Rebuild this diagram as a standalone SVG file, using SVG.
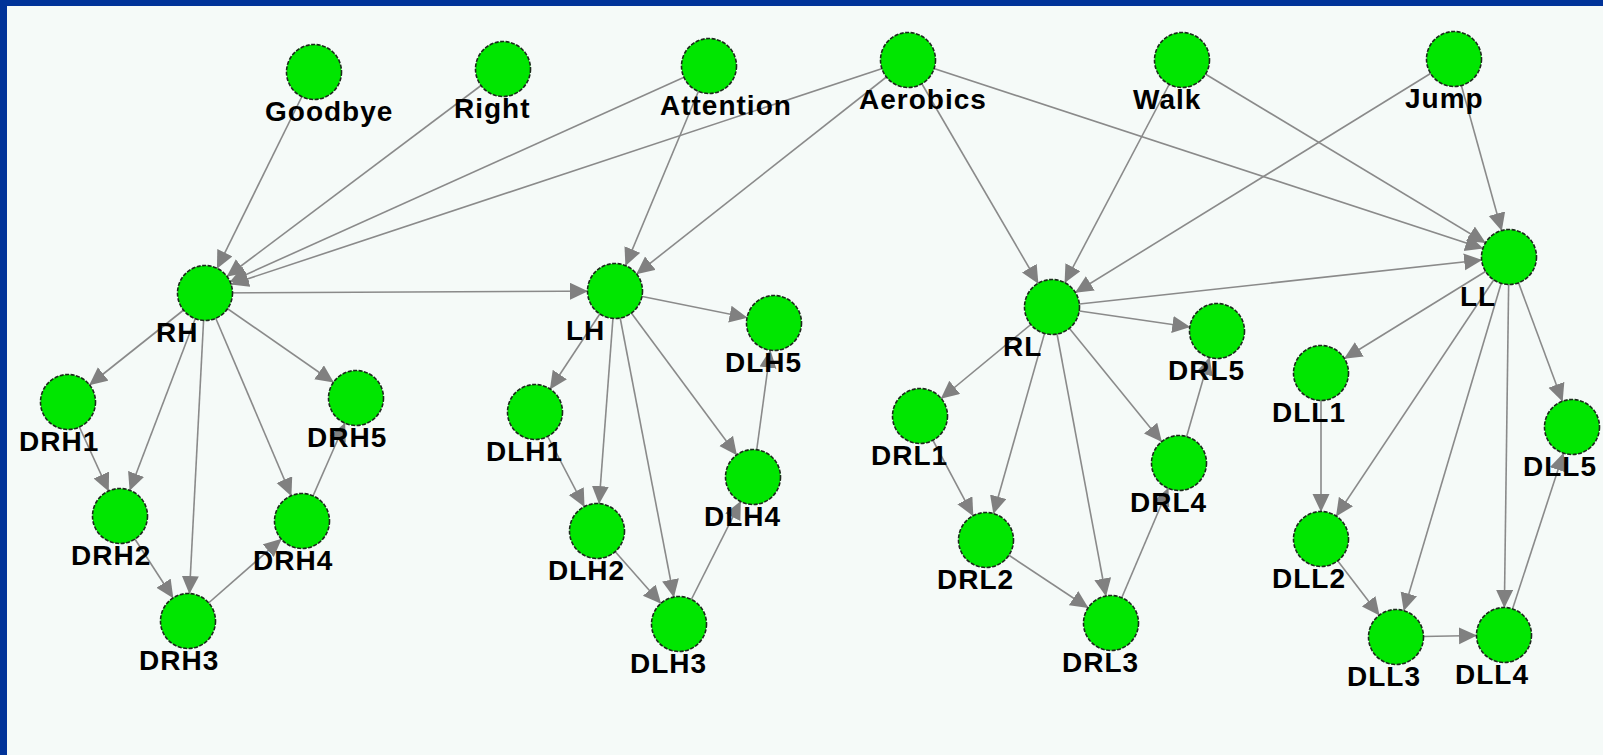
<svg xmlns="http://www.w3.org/2000/svg" width="1603" height="755" viewBox="0 0 1603 755">
<style>
.bg{fill:#f5faf8}
.frame{fill:#003399}
.e{stroke:#8a8a8a;stroke-width:1.6;fill:none;marker-end:url(#ah)}
.n circle{fill:#00e600;stroke:#1c2a1c;stroke-width:1.6;stroke-dasharray:4 1.5}
.n text{font-family:"Liberation Sans",Arial,sans-serif;font-weight:bold;font-size:28px;letter-spacing:1px;fill:#000}
</style>
<defs>
<marker id="ah" markerUnits="userSpaceOnUse" markerWidth="50" markerHeight="18" refX="45" refY="8.5" orient="auto" viewBox="0 0 50 18">
<path d="M0,0 L18,8.5 L0,17 z" fill="#808080"/>
</marker>
</defs>
<rect class="bg" x="0" y="0" width="1603" height="755"/>
<rect class="frame" x="0" y="0" width="1603" height="6"/>
<rect class="frame" x="0" y="0" width="7" height="755"/>
<g id="connectors">
<line class="e" x1="314" y1="72" x2="205" y2="293"/>
<line class="e" x1="503" y1="69" x2="205" y2="293"/>
<line class="e" x1="709" y1="66" x2="205" y2="293"/>
<line class="e" x1="908" y1="60" x2="205" y2="293"/>
<line class="e" x1="709" y1="66" x2="615" y2="291"/>
<line class="e" x1="908" y1="60" x2="615" y2="291"/>
<line class="e" x1="908" y1="60" x2="1052" y2="307"/>
<line class="e" x1="908" y1="60" x2="1509" y2="257"/>
<line class="e" x1="1182" y1="60" x2="1052" y2="307"/>
<line class="e" x1="1182" y1="60" x2="1509" y2="257"/>
<line class="e" x1="1454" y1="59" x2="1052" y2="307"/>
<line class="e" x1="1454" y1="59" x2="1509" y2="257"/>
<line class="e" x1="205" y1="293" x2="615" y2="291"/>
<line class="e" x1="1052" y1="307" x2="1509" y2="257"/>
<line class="e" x1="205" y1="293" x2="68" y2="402"/>
<line class="e" x1="205" y1="293" x2="120" y2="516"/>
<line class="e" x1="205" y1="293" x2="188" y2="621"/>
<line class="e" x1="205" y1="293" x2="302" y2="521"/>
<line class="e" x1="205" y1="293" x2="356" y2="398"/>
<line class="e" x1="68" y1="402" x2="120" y2="516"/>
<line class="e" x1="120" y1="516" x2="188" y2="621"/>
<line class="e" x1="188" y1="621" x2="302" y2="521"/>
<line class="e" x1="302" y1="521" x2="356" y2="398"/>
<line class="e" x1="615" y1="291" x2="535" y2="412"/>
<line class="e" x1="615" y1="291" x2="597" y2="531"/>
<line class="e" x1="615" y1="291" x2="679" y2="624"/>
<line class="e" x1="615" y1="291" x2="753" y2="477"/>
<line class="e" x1="615" y1="291" x2="774" y2="323"/>
<line class="e" x1="535" y1="412" x2="597" y2="531"/>
<line class="e" x1="597" y1="531" x2="679" y2="624"/>
<line class="e" x1="679" y1="624" x2="753" y2="477"/>
<line class="e" x1="753" y1="477" x2="774" y2="323"/>
<line class="e" x1="1052" y1="307" x2="920" y2="416"/>
<line class="e" x1="1052" y1="307" x2="986" y2="540"/>
<line class="e" x1="1052" y1="307" x2="1111" y2="623"/>
<line class="e" x1="1052" y1="307" x2="1179" y2="463"/>
<line class="e" x1="1052" y1="307" x2="1217" y2="331"/>
<line class="e" x1="920" y1="416" x2="986" y2="540"/>
<line class="e" x1="986" y1="540" x2="1111" y2="623"/>
<line class="e" x1="1111" y1="623" x2="1179" y2="463"/>
<line class="e" x1="1179" y1="463" x2="1217" y2="331"/>
<line class="e" x1="1509" y1="257" x2="1321" y2="373"/>
<line class="e" x1="1509" y1="257" x2="1321" y2="539"/>
<line class="e" x1="1509" y1="257" x2="1396" y2="637"/>
<line class="e" x1="1509" y1="257" x2="1504" y2="635"/>
<line class="e" x1="1509" y1="257" x2="1572" y2="427"/>
<line class="e" x1="1321" y1="373" x2="1321" y2="539"/>
<line class="e" x1="1321" y1="539" x2="1396" y2="637"/>
<line class="e" x1="1396" y1="637" x2="1504" y2="635"/>
<line class="e" x1="1504" y1="635" x2="1572" y2="427"/>
</g>
<g id="Goodbye" class="n"><circle cx="314" cy="72" r="27.5"/><text x="265" y="121">Goodbye</text></g>
<g id="Right" class="n"><circle cx="503" cy="69" r="27.5"/><text x="454" y="118">Right</text></g>
<g id="Attention" class="n"><circle cx="709" cy="66" r="27.5"/><text x="660" y="115">Attention</text></g>
<g id="Aerobics" class="n"><circle cx="908" cy="60" r="27.5"/><text x="859" y="109">Aerobics</text></g>
<g id="Walk" class="n"><circle cx="1182" cy="60" r="27.5"/><text x="1133" y="109">Walk</text></g>
<g id="Jump" class="n"><circle cx="1454" cy="59" r="27.5"/><text x="1405" y="108">Jump</text></g>
<g id="RH" class="n"><circle cx="205" cy="293" r="27.5"/><text x="156" y="342">RH</text></g>
<g id="DRH1" class="n"><circle cx="68" cy="402" r="27.5"/><text x="19" y="451">DRH1</text></g>
<g id="DRH2" class="n"><circle cx="120" cy="516" r="27.5"/><text x="71" y="565">DRH2</text></g>
<g id="DRH3" class="n"><circle cx="188" cy="621" r="27.5"/><text x="139" y="670">DRH3</text></g>
<g id="DRH4" class="n"><circle cx="302" cy="521" r="27.5"/><text x="253" y="570">DRH4</text></g>
<g id="DRH5" class="n"><circle cx="356" cy="398" r="27.5"/><text x="307" y="447">DRH5</text></g>
<g id="LH" class="n"><circle cx="615" cy="291" r="27.5"/><text x="566" y="340">LH</text></g>
<g id="DLH1" class="n"><circle cx="535" cy="412" r="27.5"/><text x="486" y="461">DLH1</text></g>
<g id="DLH2" class="n"><circle cx="597" cy="531" r="27.5"/><text x="548" y="580">DLH2</text></g>
<g id="DLH3" class="n"><circle cx="679" cy="624" r="27.5"/><text x="630" y="673">DLH3</text></g>
<g id="DLH4" class="n"><circle cx="753" cy="477" r="27.5"/><text x="704" y="526">DLH4</text></g>
<g id="DLH5" class="n"><circle cx="774" cy="323" r="27.5"/><text x="725" y="372">DLH5</text></g>
<g id="RL" class="n"><circle cx="1052" cy="307" r="27.5"/><text x="1003" y="356">RL</text></g>
<g id="DRL1" class="n"><circle cx="920" cy="416" r="27.5"/><text x="871" y="465">DRL1</text></g>
<g id="DRL2" class="n"><circle cx="986" cy="540" r="27.5"/><text x="937" y="589">DRL2</text></g>
<g id="DRL3" class="n"><circle cx="1111" cy="623" r="27.5"/><text x="1062" y="672">DRL3</text></g>
<g id="DRL4" class="n"><circle cx="1179" cy="463" r="27.5"/><text x="1130" y="512">DRL4</text></g>
<g id="DRL5" class="n"><circle cx="1217" cy="331" r="27.5"/><text x="1168" y="380">DRL5</text></g>
<g id="LL" class="n"><circle cx="1509" cy="257" r="27.5"/><text x="1460" y="306">LL</text></g>
<g id="DLL1" class="n"><circle cx="1321" cy="373" r="27.5"/><text x="1272" y="422">DLL1</text></g>
<g id="DLL2" class="n"><circle cx="1321" cy="539" r="27.5"/><text x="1272" y="588">DLL2</text></g>
<g id="DLL3" class="n"><circle cx="1396" cy="637" r="27.5"/><text x="1347" y="686">DLL3</text></g>
<g id="DLL4" class="n"><circle cx="1504" cy="635" r="27.5"/><text x="1455" y="684">DLL4</text></g>
<g id="DLL5" class="n"><circle cx="1572" cy="427" r="27.5"/><text x="1523" y="476">DLL5</text></g>
</svg>
